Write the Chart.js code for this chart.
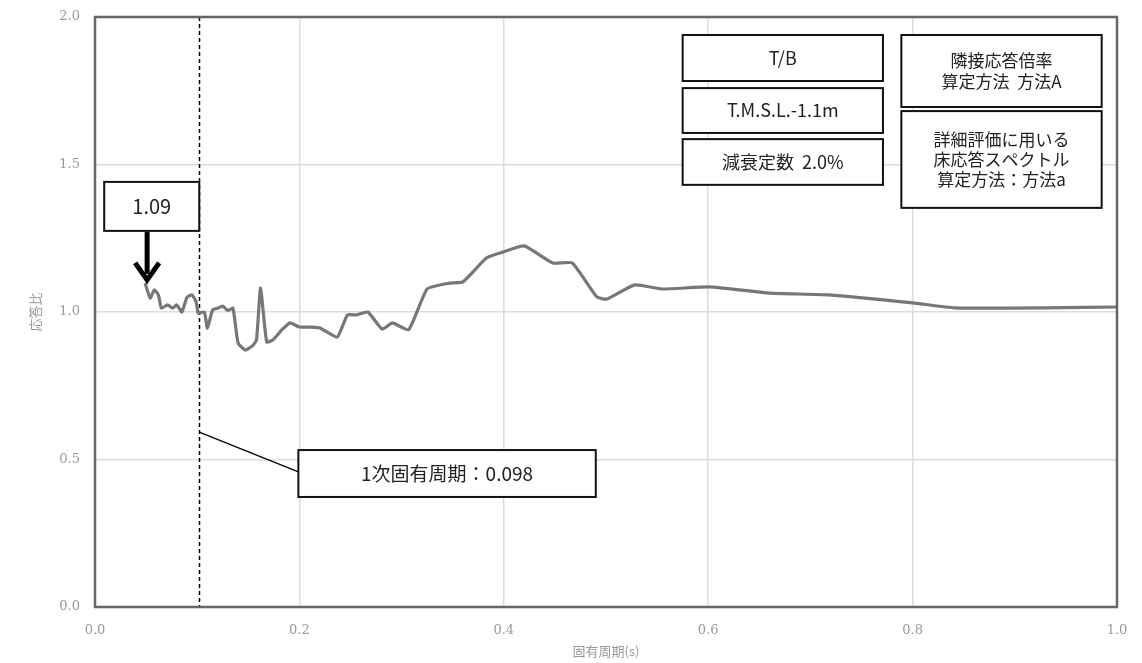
<!DOCTYPE html>
<html>
<head>
<meta charset="utf-8">
<script src="https://cdn.jsdelivr.net/npm/chart.js@4/dist/chart.umd.min.js"></script>
<style>
  html, body { margin: 0; padding: 0; background: #fff; }
  #wrap { width: 1142px; height: 663px; }
</style>
</head>
<body>
<div id="wrap"><canvas id="spectrum"></canvas></div>
<script>
// 固有周期 (s) と 応答比
const periods = [0.049, 0.054, 0.058, 0.062, 0.065, 0.071, 0.076, 0.080, 0.085, 0.090,
  0.095, 0.099, 0.101, 0.107, 0.110, 0.115, 0.120, 0.125, 0.130, 0.135,
  0.140, 0.147, 0.154, 0.158, 0.162, 0.168, 0.174, 0.183, 0.191, 0.200,
  0.212, 0.220, 0.237, 0.247, 0.256, 0.267, 0.281, 0.291, 0.307, 0.325,
  0.347, 0.360, 0.383, 0.399, 0.420, 0.448, 0.467, 0.491, 0.501, 0.528,
  0.555, 0.601, 0.660, 0.718, 0.800, 0.841, 0.931, 1.000];
const ratios = [1.098, 1.047, 1.075, 1.058, 1.013, 1.024, 1.013, 1.024, 1.000, 1.050,
  1.058, 1.034, 0.996, 1.000, 0.945, 1.007, 1.013, 1.020, 1.005, 1.013,
  0.895, 0.871, 0.885, 0.905, 1.081, 0.898, 0.905, 0.940, 0.963, 0.949,
  0.949, 0.946, 0.915, 0.990, 0.990, 1.000, 0.942, 0.963, 0.940, 1.078,
  1.098, 1.102, 1.183, 1.203, 1.224, 1.166, 1.166, 1.051, 1.044, 1.092,
  1.078, 1.085, 1.064, 1.058, 1.031, 1.014, 1.014, 1.017];

const peakLabel = '1.09';
const periodLabel = '1次固有周期：0.098';
const firstPeriodLine = 0.102;   // dashed line as drawn in the picture
const infoLeft = ['T/B', 'T.M.S.L.-1.1m', '減衰定数  2.0%'];
const infoRight = [['隣接応答倍率', '算定方法  方法A'], ['詳細評価に用いる', '床応答スペクトル', '算定方法：方法a']];

const points = periods.map((p, i) => ({ x: p, y: ratios[i] }));

// boxes in data units
const boxes = [
  { x1: 0.009, x2: 0.102, y1: 1.441, y2: 1.275, lines: [peakLabel], size: 20 },
  { x1: 0.199, x2: 0.490, y1: 0.532, y2: 0.373, lines: [periodLabel], size: 19 },
  { x1: 0.575, x2: 0.771, y1: 1.939, y2: 1.783, lines: [infoLeft[0]], size: 18 },
  { x1: 0.575, x2: 0.771, y1: 1.759, y2: 1.607, lines: [infoLeft[1]], size: 18 },
  { x1: 0.575, x2: 0.771, y1: 1.586, y2: 1.431, lines: [infoLeft[2]], size: 18 },
  { x1: 0.789, x2: 0.985, y1: 1.939, y2: 1.695, lines: infoRight[0], size: 17 },
  { x1: 0.789, x2: 0.985, y1: 1.681, y2: 1.353, lines: infoRight[1], size: 17 }
];

const annotate = {
  id: 'annotate',
  beforeDatasetsDraw(chart) {
    const { ctx, chartArea: a, scales: { x } } = chart;
    ctx.save();
    // dashed line at first natural period
    const xd = Math.round(x.getPixelForValue(firstPeriodLine)) + 0.5;
    ctx.strokeStyle = '#000';
    ctx.lineWidth = 1.5;
    ctx.setLineDash([4, 3]);
    ctx.beginPath();
    ctx.moveTo(xd, a.top);
    ctx.lineTo(xd, a.bottom);
    ctx.stroke();
    ctx.restore();
  },
  afterDatasetsDraw(chart) {
    const { ctx, chartArea: a, scales: { x, y } } = chart;
    ctx.save();
    // plot frame
    ctx.strokeStyle = '#666';
    ctx.lineWidth = 2.5;
    ctx.strokeRect(a.left, a.top, a.right - a.left, a.bottom - a.top);

    // leader line to period box
    ctx.strokeStyle = '#000';
    ctx.lineWidth = 1.3;
    ctx.beginPath();
    ctx.moveTo(x.getPixelForValue(firstPeriodLine), y.getPixelForValue(0.593));
    ctx.lineTo(x.getPixelForValue(0.199), y.getPixelForValue(0.458));
    ctx.stroke();

    // arrow to peak
    const ax = x.getPixelForValue(0.051);
    const ay1 = y.getPixelForValue(1.271), ay2 = y.getPixelForValue(1.102);
    ctx.lineWidth = 5;
    ctx.lineCap = 'butt';
    ctx.beginPath();
    ctx.moveTo(ax, ay1);
    ctx.lineTo(ax, ay2 - 8);
    ctx.stroke();
    ctx.lineJoin = 'miter';
    ctx.beginPath();
    ctx.moveTo(ax - 12, ay2 - 19);
    ctx.lineTo(ax, ay2 - 2);
    ctx.lineTo(ax + 12, ay2 - 19);
    ctx.stroke();

    // boxes
    boxes.forEach(b => {
      const l = x.getPixelForValue(b.x1), r = x.getPixelForValue(b.x2);
      const t = y.getPixelForValue(b.y1), bt = y.getPixelForValue(b.y2);
      ctx.fillStyle = '#fff';
      ctx.fillRect(l, t, r - l, bt - t);
      ctx.strokeStyle = '#111';
      ctx.lineWidth = 2;
      ctx.strokeRect(l, t, r - l, bt - t);
      ctx.fillStyle = '#222';
      ctx.font = b.size + 'px "Noto Sans CJK JP", "Noto Sans", sans-serif';
      ctx.textAlign = 'center';
      ctx.textBaseline = 'middle';
      const lh = b.size * 1.2;
      const cy = (t + bt) / 2 - (b.lines.length - 1) * lh / 2;
      b.lines.forEach((s, i) => ctx.fillText(s, (l + r) / 2, cy + i * lh));
    });
    ctx.restore();
  }
};

const tickFont = { family: '"DejaVu Serif", "Liberation Serif", serif', size: 13 };

new Chart(document.getElementById('spectrum'), {
  type: 'line',
  data: {
    datasets: [{
      data: points,
      borderColor: '#777',
      borderWidth: 3.2,
      pointRadius: 0,
      tension: 0.15,
      fill: false
    }]
  },
  options: {
    responsive: true,
    maintainAspectRatio: false,
    animation: false,
    layout: { padding: { top: 17, right: 25, left: 23, bottom: 0 } },
    plugins: { legend: { display: false }, tooltip: { enabled: false } },
    scales: {
      x: {
        type: 'linear',
        min: 0, max: 1,
        ticks: { stepSize: 0.2, color: '#999', font: tickFont, padding: 16,
          callback: v => v.toFixed(1) },
        grid: { color: '#dcdcdc', lineWidth: 1.5, drawTicks: false },
        border: { display: false },
        title: { display: true, text: '固有周期(s)', color: '#999',
          font: { family: '"Noto Sans CJK JP", sans-serif', size: 13 }, padding: { top: 0 } },
        afterFit: s => { s.height = 56; s.paddingLeft = 0; s.paddingRight = 0; }
      },
      y: {
        min: 0, max: 2,
        ticks: { stepSize: 0.5, color: '#999', font: tickFont, padding: 15,
          callback: v => v.toFixed(1) },
        grid: { color: '#dcdcdc', lineWidth: 1.5, drawTicks: false },
        border: { display: false },
        title: { display: true, text: '応答比', color: '#999',
          font: { family: '"Noto Sans CJK JP", sans-serif', size: 13 } },
        afterFit: s => { s.width = 72; s.paddingTop = 0; s.paddingBottom = 0; }
      }
    }
  },
  plugins: [annotate]
});
</script>
</body>
</html>
